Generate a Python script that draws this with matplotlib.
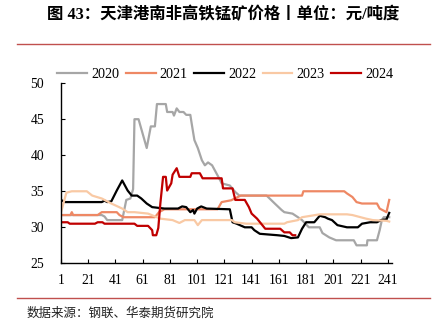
import matplotlib
matplotlib.use("Agg")
import matplotlib.pyplot as plt
from matplotlib.lines import Line2D

plt.rcParams["font.family"] = ["Liberation Serif", "Noto Sans CJK SC", "DejaVu Sans"]

# price points (day index, yuan per ton-degree)
x2020 = [1, 31, 33, 35, 46, 49, 52, 54, 55, 58, 64, 67, 70, 71.5, 78, 79, 83, 84, 86, 88, 91, 93, 96,
         97, 99, 101.5, 104.5, 106.7, 109, 112, 114, 116, 118, 119, 125, 129, 132, 152, 158, 163, 165,
         171, 175, 178, 181.5, 183, 191, 193, 198, 203, 216, 218, 225.6, 226, 233, 235, 236.6, 238, 242]
y2020 = [31.7, 31.7, 31.5, 31.0, 31.0, 33.8, 34.0, 35.3, 45.0, 45.0, 41.0, 44.0, 44.0, 47.1, 47.1, 46.0,
         46.0, 45.5, 46.5, 46.0, 46.0, 45.6, 45.6, 44.4, 42.1, 41.0, 39.3, 38.6, 39.0, 38.6, 37.9, 37.2,
         36.5, 36.1, 35.8, 34.9, 34.4, 34.4, 33.3, 32.4, 32.1, 31.9, 31.4, 31.0, 30.3, 30.0, 30.0, 29.2,
         28.6, 28.2, 28.2, 27.5, 27.5, 28.2, 28.2, 29.6, 31.0, 31.4, 31.4]

x2021 = [1, 8, 9, 10, 28, 31, 42, 44, 47, 70, 73, 77, 116, 119, 126, 133, 178, 179, 209, 211, 215,
         218, 222, 233, 235, 240, 242]
y2021 = [31.7, 31.7, 32.1, 31.7, 31.7, 32.1, 32.1, 31.7, 31.4, 31.4, 32.1, 32.5, 32.5, 33.5, 33.75,
         34.4, 34.4, 35.0, 35.0, 34.7, 34.2, 33.5, 33.3, 33.3, 32.6, 32.1, 33.8]

x2022 = [1, 4, 31, 33, 35, 38, 42, 46, 50, 53, 57, 60, 64, 68, 77, 87, 90, 93, 96, 98, 99, 101, 104,
         108, 125, 127, 130, 136, 141, 143, 147, 160, 165, 170, 175, 178, 181, 187, 191, 195, 197, 200,
         204, 211, 219, 222, 228, 233, 236, 240, 242]
y2022 = [33.8, 33.5, 33.5, 33.7, 33.5, 33.6, 35.1, 36.5, 35.1, 34.4, 34.4, 34.0, 33.3, 32.8, 32.6,
         32.6, 32.9, 32.8, 32.1, 32.4, 31.9, 32.6, 32.9, 32.6, 32.5, 30.7, 30.5, 30.0, 30.0, 29.6, 29.1,
         28.9, 28.8, 28.5, 28.6, 29.8, 30.7, 30.7, 31.6, 31.4, 31.2, 31.0, 30.3, 30.0, 30.0, 30.5, 30.7,
         30.7, 31.0, 31.1, 32.0]

x2023 = [1, 5, 9, 20, 24, 31, 38, 46, 50, 55, 65, 74, 83, 88, 92, 99, 101.5, 104.5, 126.5, 128.6,
         137, 165, 167, 175, 178, 191, 211, 215, 225, 230, 240, 242]
y2023 = [32.0, 34.8, 35.0, 35.0, 34.4, 34.0, 33.3, 32.6, 32.1, 32.1, 31.9, 31.2, 31.0, 30.6, 31.0,
         31.0, 30.3, 31.0, 31.0, 30.7, 30.5, 30.5, 30.7, 31.0, 31.4, 31.8, 31.8, 31.7, 31.2, 31.0, 30.9,
         30.8]

x2024 = [1, 6, 7.5, 26, 28, 31.5, 33, 55, 57, 65, 68, 68.5, 71, 72.5, 74, 76, 78, 79, 82, 83, 86, 88,
         96, 97, 103, 105, 119, 120, 127, 129, 136, 139, 141, 145, 148, 151, 162, 165, 169, 171, 173]
y2024 = [30.7, 30.7, 30.5, 30.5, 30.7, 30.7, 30.5, 30.5, 30.2, 30.2, 29.6, 28.9, 28.9, 29.9, 33.3,
         37.0, 37.0, 35.1, 36.1, 37.3, 38.2, 37.0, 37.0, 37.5, 37.5, 36.8, 36.8, 35.4, 35.4, 33.8, 33.8,
         32.8, 31.9, 31.2, 30.5, 29.8, 29.8, 29.3, 29.3, 28.9, 28.9]

series = [("2020", x2020, y2020, "#A6A6A6"),
          ("2021", x2021, y2021, "#EE8864"),
          ("2022", x2022, y2022, "#000000"),
          ("2023", x2023, y2023, "#F9C9A4"),
          ("2024", x2024, y2024, "#C00000")]

xticks = list(range(1, 242, 20))
yticks = [25, 30, 35, 40, 45, 50]

fig = plt.figure(figsize=(4.35, 3.3), dpi=100)
ax = fig.add_axes([0.140, 0.202, 0.761, 0.546])

for name, xs, ys, c in series:
    ax.plot(xs, ys, color=c, lw=1.6, label=name)

ax.set_xlim(1, 244)
ax.set_ylim(25, 50)
ax.set_xticks(xticks)
ax.set_yticks(yticks)
ax.tick_params(direction="in", length=3, width=0.8, labelsize=9.8)
ax.tick_params(axis="y", pad=12)
ax.tick_params(axis="x", pad=8)
for s in ["top", "right"]:
    ax.spines[s].set_visible(False)
for s in ["left", "bottom"]:
    ax.spines[s].set_linewidth(1.0)

fig.legend(loc="center", bbox_to_anchor=(0.518, 0.773), ncol=5, frameon=False,
           fontsize=10.2, handlelength=2.1, handletextpad=0.3, columnspacing=0.45,
           borderaxespad=0, borderpad=0)

fig.text(0.512, 0.955, "图 43：天津港南非高铁锰矿价格丨单位：元/吨度", ha="center", va="center",
         fontsize=11.8, fontweight="bold")
fig.add_artist(Line2D([0.039, 0.988], [0.866, 0.866], color="#C0504D", lw=1.0))
fig.add_artist(Line2D([0.039, 0.988], [0.097, 0.097], color="#C0504D", lw=1.0))
fig.text(0.062, 0.052, "数据来源：钢联、华泰期货研究院", ha="left", va="center",
         fontsize=9, family=["Noto Sans CJK SC", "DejaVu Sans"], color="#222222")

fig.savefig("out.png", dpi=100)
